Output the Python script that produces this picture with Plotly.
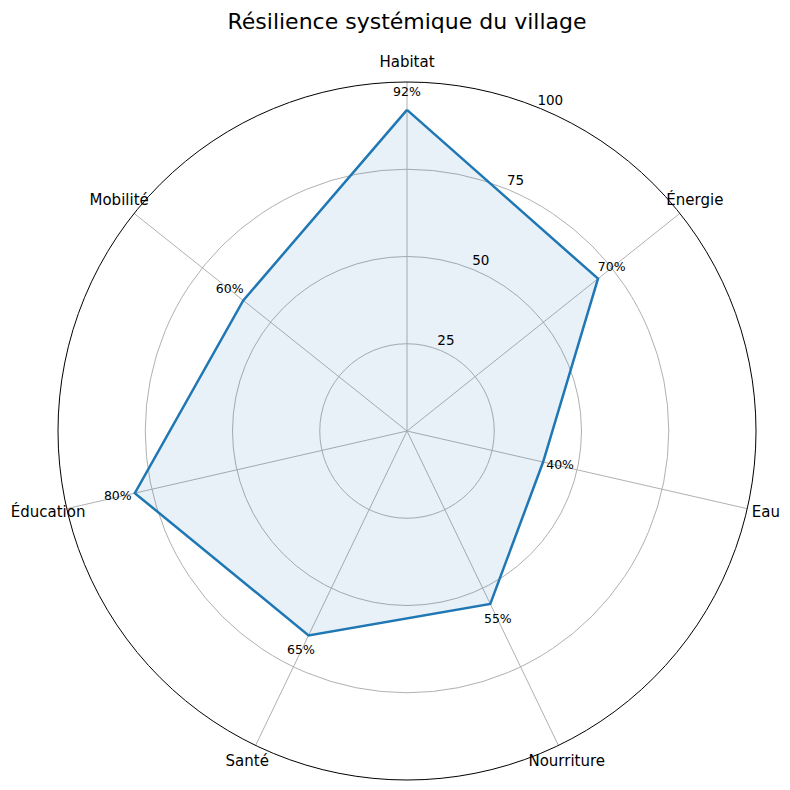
import plotly.graph_objects as go

categories = ["Habitat", "Énergie", "Eau", "Nourriture", "Santé", "Éducation", "Mobilité"]
values = [92, 70, 40, 55, 65, 80, 60]
radial_ticks = [25, 50, 75, 100]
label_offset = 5
cat_label_r = 105.5
rtick_label_angle = 23.5

# page body has an 8px margin; coordinates below are figure pixels
W, H = 790, 810
cx, cy, R = 399, 423, 349          # main polar: radius R for r = 100
RMAX2 = 110                         # overlay polar for outside labels
R2 = R * RMAX2 / 100

n = len(categories)
angles = [i * 360.0 / n for i in range(n)]


def dom(rad):
    return dict(x=[(cx - rad) / W, (cx + rad) / W], y=[1 - (cy + rad) / H, 1 - (cy - rad) / H])


fig = go.Figure()
fig.add_trace(go.Scatterpolar(
    r=values + [values[0]], theta=angles + [angles[0]], mode="lines",
    line=dict(color="#1f77b4", width=2.5),
    fill="toself", fillcolor="rgba(31,119,180,0.1)",
    hoverinfo="skip", showlegend=False, subplot="polar",
))
fig.add_trace(go.Scatterpolar(
    r=[v + label_offset for v in values], theta=angles, mode="text",
    text=[f"{v}%" for v in values], textposition="middle center",
    textfont=dict(family="DejaVu Sans", size=12.5, color="black"),
    cliponaxis=False, showlegend=False, hoverinfo="skip", subplot="polar2",
))
fig.add_trace(go.Scatterpolar(
    r=[cat_label_r] * n, theta=angles, mode="text",
    text=categories, textposition="middle center",
    textfont=dict(family="DejaVu Sans", size=15, color="black"),
    cliponaxis=False, showlegend=False, hoverinfo="skip", subplot="polar2",
))
fig.add_trace(go.Scatterpolar(
    r=[t + 3 for t in radial_ticks], theta=[rtick_label_angle] * len(radial_ticks), mode="text",
    text=[str(t) for t in radial_ticks], textposition="middle center",
    textfont=dict(family="DejaVu Sans", size=13.5, color="black"),
    cliponaxis=False, showlegend=False, hoverinfo="skip", subplot="polar2",
))

fig.update_layout(
    width=W, height=H,
    margin=dict(l=0, r=0, t=0, b=0),
    paper_bgcolor="white",
    font=dict(family="DejaVu Sans", color="black"),
    title=dict(text="Résilience systémique du village", x=cx / W, xanchor="center",
               y=1 - 13 / H, yanchor="middle", font=dict(size=22, family="DejaVu Sans")),
    polar=dict(
        domain=dom(R),
        bgcolor="white",
        angularaxis=dict(
            type="linear", thetaunit="degrees",
            rotation=90, direction="clockwise",
            tickmode="array", tickvals=angles, ticktext=categories,
            showticklabels=False, ticks="",
            showline=True, linecolor="black", linewidth=1,
            showgrid=True, gridcolor="#b0b0b0", gridwidth=1,
        ),
        radialaxis=dict(
            range=[0, 100], tickmode="array", tickvals=radial_ticks,
            showline=False, ticks="", showticklabels=False,
            showgrid=True, gridcolor="#b0b0b0", gridwidth=1,
        ),
    ),
    polar2=dict(
        domain=dom(R2),
        bgcolor="rgba(0,0,0,0)",
        angularaxis=dict(
            type="linear", thetaunit="degrees",
            rotation=90, direction="clockwise",
            showticklabels=False, ticks="", showline=False, showgrid=False,
        ),
        radialaxis=dict(
            range=[0, RMAX2], showline=False, ticks="", showticklabels=False, showgrid=False,
        ),
    ),
)
fig.write_html("out.html")
